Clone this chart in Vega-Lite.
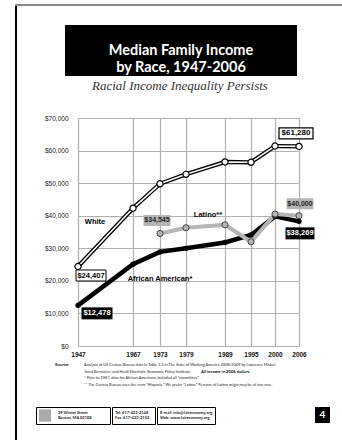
{
  "$schema": "https://vega.github.io/schema/vega-lite/v6.json",
  "background": "white",
  "padding": {"left": 15, "top": 4, "right": 0, "bottom": 0},
  "config": {"view": {"stroke": null}, "concat": {"spacing": 0}},
  "datasets": {
    "income": [
      {"series": "White", "year": 1947, "value": 24407},
      {"series": "White", "year": 1967, "value": 42300},
      {"series": "White", "year": 1973, "value": 49800},
      {"series": "White", "year": 1979, "value": 52700},
      {"series": "White", "year": 1989, "value": 56500},
      {"series": "White", "year": 1995, "value": 56400},
      {"series": "White", "year": 2000, "value": 61400},
      {"series": "White", "year": 2006, "value": 61280},
      {"series": "African American*", "year": 1947, "value": 12478},
      {"series": "African American*", "year": 1967, "value": 25100},
      {"series": "African American*", "year": 1973, "value": 28900},
      {"series": "African American*", "year": 1979, "value": 30000},
      {"series": "African American*", "year": 1989, "value": 31800},
      {"series": "African American*", "year": 1995, "value": 34100},
      {"series": "African American*", "year": 2000, "value": 39800},
      {"series": "African American*", "year": 2006, "value": 38269},
      {"series": "Latino**", "year": 1973, "value": 34545},
      {"series": "Latino**", "year": 1979, "value": 36300},
      {"series": "Latino**", "year": 1989, "value": 37200},
      {"series": "Latino**", "year": 1995, "value": 32000},
      {"series": "Latino**", "year": 2000, "value": 40500},
      {"series": "Latino**", "year": 2006, "value": 40000}
    ]
  },
  "spacing": 0,
  "vconcat": [
    {"width": 327, "height": 2, "view": {"fill": "#8a8a8a", "stroke": null}, "data": {"values": []}, "mark": "point"},
    {
      "spacing": 18,
      "hconcat": [
        {"width": 2, "height": 434, "view": {"fill": "black", "stroke": null}, "data": {"values": []}, "mark": "point"},
        {
          "spacing": 4,
          "vconcat": [
            {"width": 10, "height": 15, "data": {"values": []}, "mark": "point"},
            {
              "spacing": 0,
              "hconcat": [
                {"width": 29, "height": 1, "data": {"values": []}, "mark": "point"},
                {
                  "width": 232, "height": 51,
                  "view": {"fill": "black", "stroke": null},
                  "data": {"values": [{"title": "Median Family Income\nby Race, 1947-2006"}]},
                  "mark": {"type": "text", "lineBreak": "\n", "lineHeight": 17, "font": "Lato", "fontWeight": "bold", "fontSize": 14.5, "color": "white", "align": "center", "baseline": "middle"},
                  "encoding": {"text": {"field": "title"}}
                }
              ]
            },
            {
              "spacing": 0,
              "hconcat": [
                {"width": 8, "height": 1, "data": {"values": []}, "mark": "point"},
                {
                  "width": 227, "height": 228,
                  "title": {"text": "Racial Income Inequality Persists", "font": "Liberation Serif", "fontStyle": "italic", "fontWeight": "normal", "fontSize": 13, "color": "#333", "offset": 22, "anchor": "middle", "frame": "bounds"},
                  "data": {"name": "income"},
                  "encoding": {
                    "x": {"field": "year", "type": "quantitative",
                      "scale": {"domain": [1947, 1967, 1973, 1979, 1989, 1995, 2000, 2006], "range": [3, 58, 85, 111, 150, 176, 200, 224], "nice": false, "zero": false},
                      "axis": {"values": [1947, 1967, 1973, 1979, 1989, 1995, 2000, 2006], "format": "d", "title": null, "domain": false, "ticks": false, "grid": true, "gridColor": "#b0b0b0", "gridWidth": 1.2, "labelFont": "Liberation Sans", "labelFontWeight": "bold", "labelFontSize": 6.5, "labelColor": "#111", "labelPadding": 5, "labelFlush": false, "labelOverlap": false}},
                    "y": {"field": "value", "type": "quantitative",
                      "scale": {"domain": [0, 70000], "nice": false},
                      "axis": {"values": [0, 10000, 20000, 30000, 40000, 50000, 60000, 70000], "format": "$,.0f", "title": null, "domain": false, "ticks": false, "grid": true, "gridColor": "#b0b0b0", "gridWidth": 1.2, "labelFont": "Liberation Sans", "labelFontSize": 6.5, "labelColor": "#222", "labelPadding": 7}}
                  },
                  "layer": [
                    {"transform": [{"filter": "datum.series === 'African American*'"}], "mark": {"type": "line", "color": "black", "strokeWidth": 4.5}},
                    {"transform": [{"filter": "datum.series === 'Latino**'"}], "mark": {"type": "line", "color": "#b5b5b5", "strokeWidth": 4}},
                    {"transform": [{"filter": "datum.series === 'White'"}], "mark": {"type": "line", "color": "black", "strokeWidth": 4.2}},
                    {"transform": [{"filter": "datum.series === 'White'"}], "mark": {"type": "line", "color": "white", "strokeWidth": 1.6}},
                    {"transform": [{"filter": "datum.series === 'African American*'"}], "mark": {"type": "circle", "color": "black", "size": 28, "opacity": 1}},
                    {"transform": [{"filter": "datum.series === 'Latino**'"}], "mark": {"type": "point", "shape": "circle", "filled": true, "fill": "#b5b5b5", "stroke": "#444", "strokeWidth": 1, "size": 38, "opacity": 1}},
                    {"transform": [{"filter": "datum.series === 'White'"}], "mark": {"type": "point", "shape": "circle", "filled": true, "fill": "white", "stroke": "black", "strokeWidth": 1.2, "size": 38, "opacity": 1}},

                    {"transform": [{"filter": "datum.series === 'White' && datum.year === 1967"}], "mark": {"type": "text", "dx": -38, "dy": 14, "font": "Liberation Sans", "fontWeight": "bold", "fontSize": 7.5, "color": "black", "align": "center", "baseline": "middle"}, "encoding": {"text": {"field": "series"}}},
                    {"transform": [{"filter": "datum.series === 'Latino**' && datum.year === 1979"}], "mark": {"type": "text", "dx": 22, "dy": -13, "font": "Liberation Sans", "fontWeight": "bold", "fontSize": 7.5, "color": "black", "align": "center", "baseline": "middle"}, "encoding": {"text": {"field": "series"}}},
                    {"transform": [{"filter": "datum.series === 'African American*' && datum.year === 1973"}], "mark": {"type": "text", "dx": 0, "dy": 27, "font": "Liberation Sans", "fontWeight": "bold", "fontSize": 7.5, "color": "black", "align": "center", "baseline": "middle"}, "encoding": {"text": {"field": "series"}}},

                    {"transform": [{"filter": "datum.series === 'White' && datum.year === 1947"}], "mark": {"type": "point", "shape": "M-2,3.5h30v11h-30z", "size": 4, "filled": true, "fill": "white", "stroke": "black", "strokeWidth": 1, "opacity": 1}},
                    {"transform": [{"filter": "datum.series === 'White' && datum.year === 1947"}], "mark": {"type": "text", "dx": 13, "dy": 9, "font": "Liberation Sans", "fontWeight": "bold", "fontSize": 7.5, "color": "black", "align": "center", "baseline": "middle"}, "encoding": {"text": {"field": "value", "format": "$,.0f"}}},
                    {"transform": [{"filter": "datum.series === 'White' && datum.year === 2006"}], "mark": {"type": "point", "shape": "M-20,-18.5h34v11h-34z", "size": 4, "filled": true, "fill": "white", "stroke": "black", "strokeWidth": 1.2, "opacity": 1}},
                    {"transform": [{"filter": "datum.series === 'White' && datum.year === 2006"}], "mark": {"type": "text", "dx": -3, "dy": -13, "font": "Liberation Sans", "fontWeight": "bold", "fontSize": 8, "color": "black", "align": "center", "baseline": "middle"}, "encoding": {"text": {"field": "value", "format": "$,.0f"}}},
                    {"transform": [{"filter": "datum.series === 'African American*' && datum.year === 1947"}], "mark": {"type": "point", "shape": "M3.5,2h31v12h-31z", "size": 4, "filled": true, "fill": "black", "stroke": null, "opacity": 1}},
                    {"transform": [{"filter": "datum.series === 'African American*' && datum.year === 1947"}], "mark": {"type": "text", "dx": 19, "dy": 8, "font": "Liberation Sans", "fontWeight": "bold", "fontSize": 7.5, "color": "white", "align": "center", "baseline": "middle"}, "encoding": {"text": {"field": "value", "format": "$,.0f"}}},
                    {"transform": [{"filter": "datum.series === 'African American*' && datum.year === 2006"}], "mark": {"type": "point", "shape": "M-13.5,6h29v12h-29z", "size": 4, "filled": true, "fill": "black", "stroke": null, "opacity": 1}},
                    {"transform": [{"filter": "datum.series === 'African American*' && datum.year === 2006"}], "mark": {"type": "text", "dx": 1, "dy": 12, "font": "Liberation Sans", "fontWeight": "bold", "fontSize": 7.5, "color": "white", "align": "center", "baseline": "middle"}, "encoding": {"text": {"field": "value", "format": "$,.0f"}}},
                    {"transform": [{"filter": "datum.series === 'Latino**' && datum.year === 1973"}], "mark": {"type": "point", "shape": "M-16.5,-18.5h27v11h-27z", "size": 4, "filled": true, "fill": "#b5b5b5", "stroke": null, "opacity": 1}},
                    {"transform": [{"filter": "datum.series === 'Latino**' && datum.year === 1973"}], "mark": {"type": "text", "dx": -3, "dy": -13, "font": "Liberation Sans", "fontWeight": "bold", "fontSize": 7, "color": "#222", "align": "center", "baseline": "middle"}, "encoding": {"text": {"field": "value", "format": "$,.0f"}}},
                    {"transform": [{"filter": "datum.series === 'Latino**' && datum.year === 2006"}], "mark": {"type": "point", "shape": "M-12.5,-17.5h27v11h-27z", "size": 4, "filled": true, "fill": "#b5b5b5", "stroke": null, "opacity": 1}},
                    {"transform": [{"filter": "datum.series === 'Latino**' && datum.year === 2006"}], "mark": {"type": "text", "dx": 1, "dy": -12, "font": "Liberation Sans", "fontWeight": "bold", "fontSize": 7, "color": "#222", "align": "center", "baseline": "middle"}, "encoding": {"text": {"field": "value", "format": "$,.0f"}}}
                  ]
                }
              ]
            },
            {
              "spacing": 0,
              "hconcat": [
                {"width": 8, "height": 1, "data": {"values": []}, "mark": "point"},
                {
                  "width": 256, "height": 26,
                  "encoding": {"y": {"field": "line", "type": "ordinal", "scale": {"type": "point", "domain": [1, 2, 3, 4], "padding": 0.5}, "axis": null}},
                  "layer": [
                    {"data": {"values": [{"line": 1, "text": "Source:"}]}, "mark": {"type": "text", "align": "left", "baseline": "middle", "font": "Lato", "fontWeight": "bold", "fontSize": 4.3, "color": "#111"}, "encoding": {"x": {"value": 11}, "text": {"field": "text"}}},
                    {"data": {"values": [
                      {"line": 1, "text": "Analysis of US Census Bureau data in Table 1.3 in The State of Working America 2008/2009 by Lawrence Mishel,"},
                      {"line": 2, "text": "Jared Bernstein, and Heidi Shierholz, Economic Policy Institute."},
                      {"line": 3, "text": "* Prior to 1967, data for African Americans included all \u201cnonwhites.\u201d"},
                      {"line": 4, "text": "** The Census Bureau uses the term \u201cHispanic.\u201d We prefer \u201cLatino.\u201d Persons of Latino origin may be of any race."}
                    ]}, "mark": {"type": "text", "align": "left", "baseline": "middle", "font": "Lato", "fontSize": 3.9, "color": "#222"}, "encoding": {"x": {"value": 40}, "text": {"field": "text"}}},
                    {"data": {"values": [{"line": 2, "text": "All income in 2006 dollars."}]}, "mark": {"type": "text", "align": "left", "baseline": "middle", "font": "Lato", "fontWeight": "bold", "fontSize": 4.2, "color": "#111"}, "encoding": {"x": {"value": 157}, "text": {"field": "text"}}}
                  ]
                }
              ]
            },
            {"width": 10, "height": 10, "data": {"values": []}, "mark": "point"},
            {
              "spacing": 99,
              "hconcat": [
                {
                  "spacing": 0,
                  "hconcat": [
                    {
                      "width": 74, "height": 17,
                      "view": {"stroke": "black", "strokeWidth": 1},
                      "encoding": {"y": {"field": "line", "type": "ordinal", "scale": {"type": "point", "domain": [1, 2], "padding": 1}, "axis": null}},
                      "layer": [
                        {"data": {"values": [{"logo": "Fair Economy"}]}, "mark": {"type": "point", "shape": "square", "size": 150, "filled": true, "color": "#aaa", "opacity": 1}, "encoding": {"x": {"value": 9}, "y": {"value": 8.5}}},
                        {"data": {"values": [{"line": 1, "text": "29 Winter Street"}, {"line": 2, "text": "Boston, MA 02108"}]}, "mark": {"type": "text", "align": "left", "baseline": "middle", "font": "Lato", "fontWeight": "bold", "fontSize": 4, "color": "#222"}, "encoding": {"x": {"value": 22}, "text": {"field": "text"}}}
                      ]
                    },
                    {
                      "width": 43, "height": 17,
                      "view": {"stroke": "black", "strokeWidth": 1},
                      "data": {"values": [{"line": 1, "text": "Tel: 617-423-2148"}, {"line": 2, "text": "Fax: 617-423-2152"}]},
                      "mark": {"type": "text", "align": "left", "baseline": "middle", "font": "Lato", "fontWeight": "bold", "fontSize": 4, "color": "#222"},
                      "encoding": {"x": {"value": 3}, "y": {"field": "line", "type": "ordinal", "scale": {"type": "point", "domain": [1, 2], "padding": 1}, "axis": null}, "text": {"field": "text"}}
                    },
                    {
                      "width": 58, "height": 17,
                      "view": {"stroke": "black", "strokeWidth": 1},
                      "data": {"values": [{"line": 1, "text": "E-mail: info@faireconomy.org"}, {"line": 2, "text": "Web: www.faireconomy.org"}]},
                      "mark": {"type": "text", "align": "left", "baseline": "middle", "font": "Lato", "fontWeight": "bold", "fontSize": 4, "color": "#222"},
                      "encoding": {"x": {"value": 3}, "y": {"field": "line", "type": "ordinal", "scale": {"type": "point", "domain": [1, 2], "padding": 1}, "axis": null}, "text": {"field": "text"}}
                    }
                  ]
                },
                {
                  "width": 15, "height": 16,
                  "view": {"fill": "black", "stroke": null},
                  "data": {"values": [{"page": "4"}]},
                  "mark": {"type": "text", "font": "Lato", "fontWeight": "bold", "fontSize": 10, "color": "white", "align": "center", "baseline": "middle"},
                  "encoding": {"text": {"field": "page"}}
                }
              ]
            }
          ]
        }
      ]
    }
  ]
}
